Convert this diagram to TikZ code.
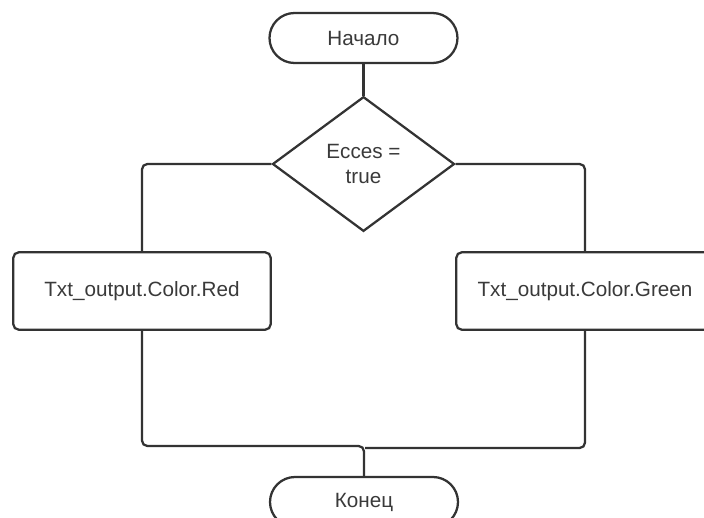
\documentclass[tikz,border=0pt]{standalone}
\usepackage{fontspec}
\setmainfont{Liberation Sans}
\usetikzlibrary{shapes.geometric}
\definecolor{ln}{HTML}{333333}
\definecolor{tx}{HTML}{3A3A3A}
\begin{document}
\begin{tikzpicture}[x=0.75pt,y=-0.75pt,
  every node/.style={font=\fontsize{15.5}{19}\selectfont, text=tx},
  term/.style={draw=ln, line width=1.7pt, fill=white, rectangle, rounded corners=18.75pt,
    minimum width=141pt, minimum height=37.5pt, inner sep=0pt},
  proc/.style={draw=ln, line width=1.7pt, fill=white, rectangle, rounded corners=4pt,
    minimum width=193pt, minimum height=58pt, inner sep=0pt},
  dec/.style={draw=ln, line width=1.7pt, fill=white, diamond, aspect=1.35,
    minimum width=136.5pt, minimum height=101pt, inner sep=0pt, align=center},
  conn/.style={draw=ln, line width=1.7pt, rounded corners=4pt}]
\useasboundingbox (0,0) rectangle (704,518);
\node[term] (start) at (363.5,38) {Начало};
\node[dec] (dec) at (363.5,164) {Ecces =\\[0pt]true};
\node[proc] (red) at (142,291) {Txt\_output.Color.Red};
\node[proc] (green) at (585,291) {Txt\_output.Color.Green};
\node[term] (stop) at (364,502) {Конец};
\coordinate (jl) at (142,446);
\coordinate (jm) at (364,446);
\coordinate (jr) at (585,448);
\coordinate (jn) at (365,448);
\draw[conn] (start.south) -- (dec.north);
\draw[conn] (dec.west) -| (red.north);
\draw[conn] (dec.east) -| (green.north);
\draw[conn] (red.south) -- (jl) -- (jm) -- (stop.north);
\draw[conn] (green.south) -- (jr) -- (jn);
\end{tikzpicture}
\end{document}
